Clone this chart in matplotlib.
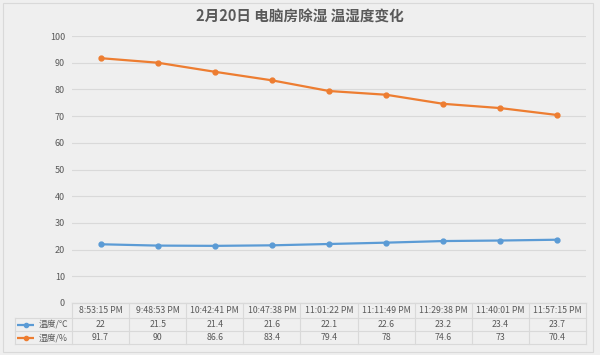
import matplotlib.pyplot as plt
from matplotlib.lines import Line2D
from matplotlib.patches import Rectangle

plt.rcParams['font.family'] = ['Noto Sans CJK SC', 'DejaVu Sans']

times = ['8:53:15 PM', '9:48:53 PM', '10:42:41 PM', '10:47:38 PM', '11:01:22 PM',
         '11:11:49 PM', '11:29:38 PM', '11:40:01 PM', '11:57:15 PM']
temp = [22, 21.5, 21.4, 21.6, 22.1, 22.6, 23.2, 23.4, 23.7]
humid = [91.7, 90, 86.6, 83.4, 79.4, 78, 74.6, 73, 70.4]
series_names = ['温度/℃', '湿度/%']
title = '2月20日 电脑房除湿 温湿度变化'

bg = '#efefef'
grid_c = '#d9d9d9'
text_c = '#595959'
blue = '#5b9bd5'
orange = '#ed7d31'

W, H = 600, 355
fig = plt.figure(figsize=(6, 3.55), dpi=100, facecolor=bg)
fig.patches.append(Rectangle((3 / W, 3 / H), 590 / W, 349 / H, transform=fig.transFigure,
                             fill=False, edgecolor='#d9d9d9', lw=0.8))

ax_l, ax_r, ax_top, ax_bot = 72, 586, 36, 303
ax = fig.add_axes([ax_l / W, 1 - ax_bot / H, (ax_r - ax_l) / W, (ax_bot - ax_top) / H])
ax.set_facecolor(bg)

x = list(range(len(times)))
ax.plot(x, temp, color=blue, lw=1.6, marker='o', ms=3.5, zorder=3)
ax.plot(x, humid, color=orange, lw=1.6, marker='o', ms=3.5, zorder=3)

ax.set_xlim(-0.5, len(times) - 0.5)
ax.set_ylim(0, 100)
ax.set_yticks(range(0, 101, 10))
ax.tick_params(axis='y', length=0, labelsize=6.5, labelcolor=text_c, pad=5)
ax.set_xticks([])
ax.yaxis.grid(True, color=grid_c, lw=0.8)
ax.set_axisbelow(True)
for s in ['top', 'right', 'left']:
    ax.spines[s].set_visible(False)
ax.spines['bottom'].set_color(grid_c)

fig.text(0.5, 1 - 17 / H, title, ha='center', va='center', fontsize=10.5,
         color=text_c, fontweight='bold')

# data table under the axis
px = (ax_bot - ax_top)
rows_px = [303, 318, 331, 344]
ry = [-(r - ax_bot) / px for r in rows_px]
tr = ax.get_xaxis_transform()
left = -0.5 - (ax_l - 15) / ((ax_r - ax_l) / len(times))
n = len(times)
lkw = dict(color=grid_c, lw=0.8, transform=tr, clip_on=False)
# horizontal lines
ax.add_line(Line2D([-0.5, n - 0.5], [ry[0], ry[0]], **lkw))
for yy in ry[1:]:
    ax.add_line(Line2D([left, n - 0.5], [yy, yy], **lkw))
# vertical lines
for i in range(n + 1):
    ax.add_line(Line2D([i - 0.5, i - 0.5], [ry[0], ry[3]], **lkw))
ax.add_line(Line2D([left, left], [ry[1], ry[3]], **lkw))

tkw = dict(transform=tr, ha='center', va='center', fontsize=6.3, color=text_c, clip_on=False)
for i, t in enumerate(times):
    ax.text(i, (ry[0] + ry[1]) / 2, t, **tkw)
for row, vals in enumerate([temp, humid]):
    yc = (ry[row + 1] + ry[row + 2]) / 2
    for i, v in enumerate(vals):
        ax.text(i, yc, f'{v:g}', **tkw)
for row, (name, c) in enumerate(zip(series_names, [blue, orange])):
    yc = (ry[row + 1] + ry[row + 2]) / 2
    ax.add_line(Line2D([left + 0.04, left + 0.34], [yc, yc], color=c, lw=1.6,
                       solid_capstyle='butt', transform=tr, clip_on=False))
    ax.add_line(Line2D([left + 0.19], [yc], color=c, marker='o', ms=3,
                       transform=tr, clip_on=False))
    ax.text(left + 0.42, yc, name, transform=tr, ha='left', va='center',
            fontsize=6.3, color=text_c, clip_on=False)

fig.savefig('out.png', dpi=100, facecolor=bg)
